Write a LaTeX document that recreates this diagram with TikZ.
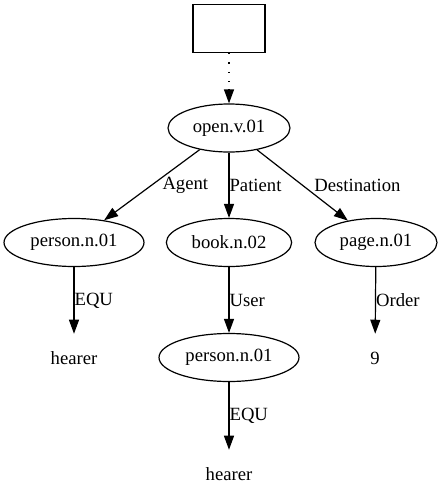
\documentclass[tikz,border=0pt]{standalone}
\usepackage{fontspec}
\setmainfont{Liberation Serif}
\usepackage{tikz}
\usetikzlibrary{shapes,arrows.meta,positioning}

\begin{document}
\begin{tikzpicture}[x=0.75pt,y=0.75pt,yscale=-1,xscale=1,
    font=\fontsize{14}{16}\selectfont,
    sense/.style={draw, ellipse, line width=0.9pt, inner sep=0pt, minimum height=36pt},
    word/.style={inner sep=0pt, minimum width=40pt, minimum height=36pt},
    rel/.style={line width=0.9pt, -{Triangle[length=10.5pt,width=7.5pt]}},
    lbl/.style={inner sep=0pt, anchor=west}]
    \useasboundingbox (0,0) rectangle (442,504);

    %Shape: Rectangle
    \node [draw, line width=0.9pt, minimum width=54pt, minimum height=36pt] (root) at (229,28.5) {};

    % Ellipse Nodes
    \node [sense, minimum width=91.5pt] (open) at (229,128) {open.v.01};
    \node [sense, minimum width=105pt] (agent) at (74,242.5) {person.n.01};
    \node [sense, minimum width=94pt] (book) at (229,242.5) {book.n.02};
    \node [sense, minimum width=91.5pt] (page) at (376,242.5) {page.n.01};
    \node [sense, minimum width=105pt] (user) at (229,357.5) {person.n.01};

    % Text Node
    \node [word] (hearerA) at (74,358) {hearer};
    \node [word] (nine) at (375,358) {9};
    \node [word] (hearerB) at (229,474) {hearer};

    % Edges
    \draw [line width=0.9pt, dash pattern={on 1pt off 6pt}, shorten >=10pt] (root) -- (open);
    \draw [rel, shorten <=27pt] (root) -- (open); % solid tip only
    \draw [rel] (open) -- (agent) node [lbl, midway, xshift=7.5pt] {Agent};
    \draw [rel] (open) -- (book) node [lbl, midway] {Patient};
    \draw [rel] (open) -- (page) node [lbl, midway, xshift=8.5pt] {Destination};
    \draw [rel] (agent) -- (hearerA) node [lbl, midway] {EQU};
    \draw [rel] (book) -- (user) node [lbl, midway] {User};
    \draw [rel] (page) -- (nine) node [lbl, midway] {Order};
    \draw [rel] (user) -- (hearerB) node [lbl, midway] {EQU};

\end{tikzpicture}
\end{document}
